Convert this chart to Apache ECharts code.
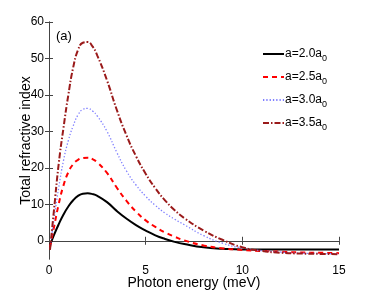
<!DOCTYPE html>
<html><head><meta charset="utf-8">
<script src="https://cdn.jsdelivr.net/npm/echarts@6/dist/echarts.min.js"></script>
<style>html,body{margin:0;padding:0;background:#fff}#c{width:374px;height:291px}</style>
</head><body><div id="c"></div>
<script>
const xs = [0.05,0.25,0.5,0.75,1,1.25,1.5,1.75,2,2.25,2.5,3,3.5,4,4.5,5,5.5,6,6.5,7,8,9,10,11,12,13,14,15];
const a20 = [-1.2,1.5,4.5,7.2,9.4,11.1,12.3,12.9,13.0,12.8,12.3,10.6,8.2,6.1,4.3,2.8,1.5,0.5,-0.3,-0.9,-1.8,-2.2,-2.4,-2.4,-2.4,-2.4,-2.4,-2.4];
const a25 = [-1.8,3.5,10,15.2,18.8,21,22.2,22.7,22.8,22.4,21.5,18.6,14.6,11.0,8.0,5.6,3.8,2.3,1.1,0.1,-1.3,-2.1,-2.5,-2.8,-3.0,-3.2,-3.3,-3.4];
const a30 = [-2.2,5.5,14.5,22,27.5,31.5,34.5,36,36.3,35.6,34.2,30,24.3,19.2,15.3,12.2,9.7,7.6,5.9,4.4,1.4,-0.7,-2.0,-2.7,-3.1,-3.4,-3.5,-3.6];
const a35 = [-2.5,8,21,31,40,47.5,52.3,54.3,54.5,53.3,50.8,44,36,29,23.2,18.4,14.4,11.1,8.4,6.2,2.8,0.2,-1.8,-2.8,-3.3,-3.5,-3.6,-3.7];
const names = ['a=2.0a','a=2.5a','a=3.0a','a=3.5a'];
const xTicks = [0,5,10,15];
const yTicks = [0,10,20,30,40,50,60];

const pairs = ys => xs.map((x,i)=>[x, ys[i]]);
const FONT = 'Liberation Sans';
const axisLine = {lineStyle:{color:'#444', width:1}};
const xTick = {inside:true, length:4, lineStyle:{color:'#444'}, customValues:xTicks};
const yTick = {inside:true, length:4, lineStyle:{color:'#444'}, customValues:yTicks};

const chart = echarts.init(document.getElementById('c'));
chart.setOption({
  animation:false,
  textStyle:{fontFamily:FONT},
  grid:{left:49, right:35, top:22, bottom:32, outerBoundsMode:'none', containLabel:false},
  title:{text:'(a)', left:51, top:25, textStyle:{fontFamily:FONT, fontSize:13, fontWeight:'normal', color:'#000'}},
  legend:{
    orient:'vertical', left:257, top:43, itemWidth:21, itemHeight:14, itemGap:7.5,
    itemStyle:{opacity:0},
    data:names,
    formatter: n => '{a|'+n+'}{s|0}',
    textStyle:{fontFamily:FONT, color:'#000', padding:[0,0,0,-4],
      rich:{a:{fontSize:12, fontFamily:FONT, color:'#000'}, s:{fontSize:9, fontFamily:FONT, color:'#000', verticalAlign:'top', padding:[10,0,0,0]}}}
  },
  xAxis:[{type:'value', min:0, max:15, axisLine, axisTick:xTick, splitLine:{show:false},
      axisLabel:{color:'#000', fontSize:12, margin:6, customValues:xTicks},
      name:'Photon energy (meV)', nameLocation:'middle', nameGap:17, nameMoveOverlap:false,
      nameTextStyle:{fontSize:14, color:'#000', fontFamily:FONT, verticalAlign:'top'}},
    {type:'value', position:'top', min:0, max:15, axisLine, axisTick:xTick, axisLabel:{show:false}, splitLine:{show:false}}],
  yAxis:[{type:'value', min:-5, max:60, axisLine, axisTick:yTick, splitLine:{show:false},
      axisLabel:{color:'#000', fontSize:12, margin:5, customValues:yTicks},
      name:'Total refractive index', nameLocation:'middle', nameGap:16, nameMoveOverlap:false,
      nameTextStyle:{fontSize:14, color:'#000', fontFamily:FONT}},
    {type:'value', position:'right', min:-5, max:60, axisLine, axisTick:yTick, axisLabel:{show:false}, splitLine:{show:false}}],
  series:[
    {name:names[0], type:'line', smooth:true, symbol:'none', data:pairs(a20), lineStyle:{color:'#000', width:2}, itemStyle:{color:'#000'}},
    {name:names[1], type:'line', smooth:true, symbol:'none', data:pairs(a25), lineStyle:{color:'#ff0000', width:2, type:[5,4]}, itemStyle:{color:'#ff0000'}},
    {name:names[2], type:'line', smooth:true, symbol:'none', data:pairs(a30), lineStyle:{color:'#7f7fff', width:1.3, type:[1.3,2]}, itemStyle:{color:'#7f7fff'}},
    {name:names[3], type:'line', smooth:true, symbol:'none', data:pairs(a35), lineStyle:{color:'#9a1a1a', width:2, type:[6,2,1.5,2]}, itemStyle:{color:'#9a1a1a'}}
  ]
});
</script></body></html>
